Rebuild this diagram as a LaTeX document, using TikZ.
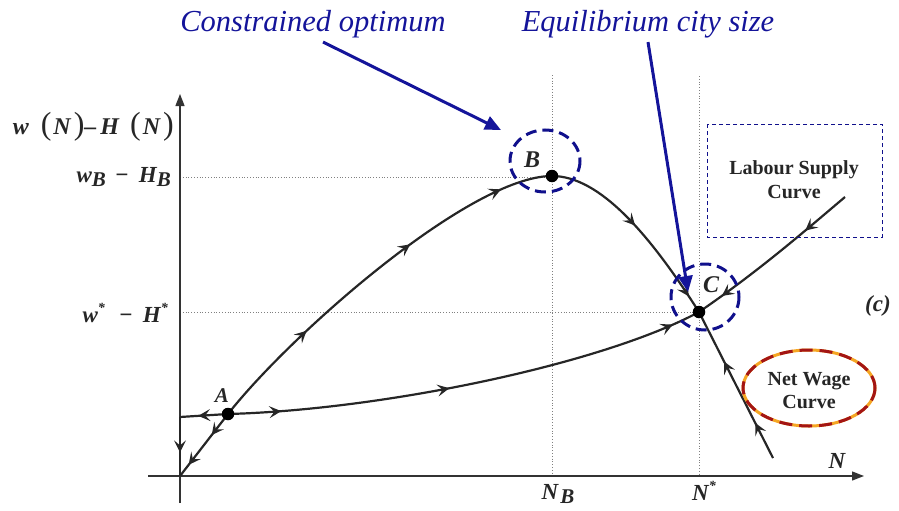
\documentclass[tikz,border=0pt]{standalone}
\usepackage{fontspec}
\setmainfont{Liberation Serif}
\usetikzlibrary{arrows.meta,decorations.markings,shapes.geometric}
\definecolor{annblue}{HTML}{14149A}
\definecolor{circblue}{HTML}{10108C}
\definecolor{wageorange}{HTML}{F5A623}
\definecolor{wagered}{HTML}{A31515}
\definecolor{axisgray}{HTML}{333333}
\tikzset{
  flowarr/.style={postaction={decorate,decoration={markings,mark=at position #1 with {\arrow{Stealth[length=12pt,width=12pt,inset=5pt]}}}}},
  curve/.style={line width=2.2pt,black!85},
  axisline/.style={line width=1.3pt,axisgray},
  guide/.style={dotted,line width=0.8pt,gray},
  lbl/.style={font=\fontsize{23}{25}\selectfont\bfseries\itshape,text=black!85,inner sep=0pt},
  ann/.style={font=\fontsize{30.5}{32}\selectfont\itshape,text=annblue,inner sep=0pt},
  annarrow/.style={line width=3pt,annblue,-{Triangle[length=16pt,width=14pt]}},
  dashcirc/.style={circblue,line width=3pt,dash pattern=on 11pt off 6pt},
  boxtext/.style={font=\fontsize{20}{23}\selectfont\bfseries,text=black!85,align=center,inner sep=0pt},
  dot/.style={circle,fill=black,inner sep=0pt,minimum size=12.5pt}
}
\newcommand{\bigp}[1]{{\mdseries\upshape\fontsize{32}{32}\selectfont #1}}
\newcommand{\starsup}{\raisebox{1.0ex}{\fontsize{14}{14}\selectfont *}}
\newcommand{\lowsub}[1]{\raisebox{-0.4ex}{\fontsize{21}{21}\selectfont #1}}
\begin{document}
\begin{tikzpicture}[x=1pt,y=-1pt]
\useasboundingbox (0,0) rectangle (899,511);
% coordinates
\coordinate (O) at (180,476);
\coordinate (ytop) at (180,94);
\coordinate (ybot) at (180,503);
\coordinate (xleft) at (148,476);
\coordinate (xright) at (864,476);
\coordinate (A) at (228,414);
\coordinate (B) at (552,176);
\coordinate (C) at (699,312);
\coordinate (L0) at (180,417);
\coordinate (Lend) at (845,197);
\coordinate (Wend) at (773,458);
\coordinate (gB1) at (180,177);
\coordinate (gB2) at (552,177);
\coordinate (gS1) at (180,312);
\coordinate (gS2) at (699,312);
\coordinate (vB1) at (552,75);
\coordinate (vB2) at (552,476);
\coordinate (vS1) at (699,76);
\coordinate (vS2) at (699,476);
% guides
\draw[guide] (gB1) -- (gB2);
\draw[guide] (gS1) -- (gS2);
\draw[guide] (vB1) -- (vB2);
\draw[guide] (vS1) -- (vS2);
% axes
\draw[axisline,-{Triangle[length=12pt,width=9pt]}] (ybot) -- (ytop);
\draw[axisline,-{Triangle[length=12pt,width=9pt]}] (xleft) -- (xright);
% labour supply curve
\draw[curve,flowarr=0.62] (A) -- (L0);
\draw[curve,flowarr=0.6] (L0) -- (O);
\draw[curve,flowarr=0.11,flowarr=0.46,flowarr=0.94] (A) .. controls (380,410) and (600,365) .. (C);
\draw[curve,flowarr=0.28,flowarr=0.85] (Lend) .. controls (800,235) and (760,270) .. (C);
% net wage curve
\draw[curve,flowarr=0.34,flowarr=0.82] (A) -- (O);
\draw[curve,flowarr=0.28,flowarr=0.61,flowarr=0.87] (A) .. controls (290,335) and (470,176) .. (B);
\draw[curve,flowarr=0.48,flowarr=0.91] (B) .. controls (600,176) and (650,235) .. (C);
\draw[curve,flowarr=0.24,flowarr=0.66] (Wend) -- (C);
% points
\node[dot] (pA) at (A) {};
\node[dot] (pB) at (B) {};
\node[dot] (pC) at (C) {};
\node[lbl,font=\fontsize{21}{22}\selectfont\bfseries\itshape] (tA) at (222,396) {A};
\node[lbl,font=\fontsize{24}{26}\selectfont\bfseries\itshape] (tB) at (532,160) {B};
\node[lbl,font=\fontsize{24}{26}\selectfont\bfseries\itshape] (tC) at (711,285) {C};
% dashed circles
\draw[dashcirc] (545,161) ellipse [x radius=35, y radius=31];
\draw[dashcirc] (705,297) ellipse [x radius=34, y radius=33];
% net wage ellipse
\draw[wageorange,line width=3pt] (809,388) ellipse [x radius=66, y radius=38];
\draw[wagered,line width=3pt,dash pattern=on 13pt off 7pt] (809,388) ellipse [x radius=66, y radius=38];
\node[boxtext] (nw) at (809,391) {Net Wage\\Curve};
% labour supply box
\draw[circblue,line width=1pt,dash pattern=on 4pt off 3pt] (707,124) rectangle (882,237);
\node[boxtext,font=\fontsize{20}{24}\selectfont\bfseries] (ls) at (794,180) {Labour Supply\\Curve};
% axis labels
\node[lbl,font=\fontsize{24}{26}\selectfont\bfseries\itshape,anchor=east] (ylab) at (174,127) {w\hspace{12pt}\bigp{(}\hspace{2pt}N\hspace{3pt}\bigp{)}–\hspace{4pt}H\hspace{11pt}\bigp{(}\hspace{2pt}N\hspace{3pt}\bigp{)}};
\node[lbl,anchor=east] (wb) at (171,177) {w\lowsub{B}\hspace{9pt}−\hspace{10pt}H\lowsub{B}};
\node[lbl,anchor=east] (ws) at (168,313) {w\starsup\hspace{14pt}−\hspace{10pt}H\starsup};
\node[lbl] (nb) at (558,494) {N\lowsub{\hspace{2pt}B}};
\node[lbl] (ns) at (704,491) {N\starsup};
\node[lbl] (nx) at (837,461) {N};
\node[lbl] (cc) at (878,306) {(c)};
% annotations
\node[ann] (ann1) at (313,24) {Constrained optimum};
\node[ann] (ann2) at (648,24) {Equilibrium city size};
\coordinate (t1) at (501,130);
\coordinate (t2) at (688,292);
\draw[annarrow] (ann1.south) ++(10,4) coordinate (s1) -- (t1);
\draw[annarrow] (ann2.south) ++(0,4) coordinate (s2) -- (t2);
\end{tikzpicture}
\end{document}
